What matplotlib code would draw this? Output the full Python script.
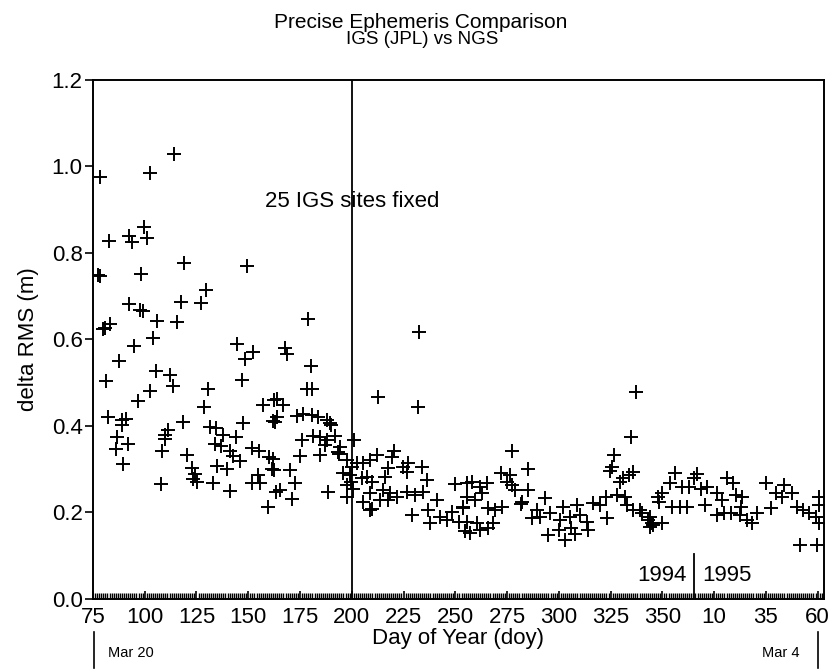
import matplotlib
matplotlib.use("Agg")
import matplotlib.pyplot as plt
from matplotlib.lines import Line2D

plt.rcParams['font.family'] = ['Liberation Sans', 'DejaVu Sans']

# continuous day count (1995 days are 365 + doy)
doy = [
    78.4, 77.5, 82.9, 92.4, 93.8, 99.6, 101, 102.5, 114.1, 78.4, 98.2, 119, 149.3, 129.5,
    92.4, 97.7, 99, 117.5, 127.1, 105.9, 115.5, 83.2, 80, 80.8, 104, 94.8, 144.5, 152.2,
    148.4, 87.5, 105.4, 112.2, 113.6, 81.3, 146.9, 130.5, 102.5, 96.7, 128.6, 157, 162.4,
    82.4, 89, 91, 89, 118.6, 147.6, 162, 111.3, 110, 131.5, 134.6, 137.8, 144, 86.6, 92,
    86.1, 109.9, 108.5, 133.9, 137, 141, 142.5, 120.5, 151.9, 155, 160, 146, 89.5, 134.8,
    139.7, 122.6, 124.2, 123.3, 125.2, 154.6, 155.6, 161.4, 151.7, 133, 107.8, 141, 163.6,
    159.5,
    178.8, 232.3, 167.7, 168.6, 180.2, 178.3, 181, 212.5, 231.8, 163.7, 166.7, 163.7, 162.8,
    173.4, 176.3, 180.7, 183.6, 187.9, 189.4, 190, 201, 175.8, 181.2, 184.5, 191.8, 187.9,
    187, 194.2, 193.2, 194, 175, 184.5, 161.9, 197.6, 162.4, 170.4, 212, 220.3, 219.3,
    202.4, 205.3, 208.7, 200, 217.4, 224.6, 227, 226.5, 233.8, 195.7, 199, 204.8, 207.2,
    210, 216, 236.2, 172.5, 165.2, 171, 188.4, 197.6, 199.5, 197.6, 200.5, 208.7, 215,
    218.3, 222, 213.5, 217.4, 226.5, 230.4, 234.3, 205.3, 208.7, 210, 229, 241, 249.7,
    255.5, 236.7, 248.3, 253.6, 238, 242.5, 245.8, 252,
    337.5, 334.7, 277.2, 326.5, 325.5, 324.5, 284.9, 336, 334, 330.8, 329.4, 272.3, 276.3,
    274.8, 277.2, 257.9, 261.8, 265.2, 262.8, 278.7, 284.9, 282, 281.5, 293.1, 255.5, 259.4,
    253.6, 265.6, 269, 272.4, 289.3, 295.6, 301.8, 308.6, 316.3, 319.7, 323, 327.9, 331.8,
    332.7, 335.6, 340, 342.9, 345.3, 347.7, 255.5, 260.3, 268, 286.9, 290.7, 300.4, 305.2,
    310, 313.4, 323.5,
    355.9, 366.5, 365.5, 381, 353.5, 359.3, 363, 368.9, 371.8, 383.9, 400.3, 409, 350,
    348.6, 354.9, 358.3, 361.7, 370.4, 376.2, 378.6, 385.8, 388.7, 388.2, 380, 376.2,
    383.4, 387.3, 391.1, 395.5, 402.7, 405.1, 408, 412.8, 414.8, 417.7, 421, 424.4, 425.9,
    425.9, 339, 343.8, 344.8, 393.5, 425.9,
    254.5, 257, 262, 266, 294.6, 303, 308, 314, 344, 416.5, 424.5, 300, 306, 350,
]
rms = [
    0.976, 0.749, 0.828, 0.839, 0.826, 0.86, 0.834, 0.985, 1.029, 0.747, 0.751, 0.777, 0.770, 0.714,
    0.682, 0.668, 0.667, 0.687, 0.684, 0.643, 0.640, 0.636, 0.624, 0.626, 0.603, 0.585, 0.590, 0.571,
    0.555, 0.551, 0.527, 0.518, 0.493, 0.504, 0.506, 0.486, 0.481, 0.458, 0.443, 0.449, 0.460,
    0.420, 0.414, 0.416, 0.402, 0.410, 0.406, 0.411, 0.390, 0.379, 0.397, 0.395, 0.379, 0.375, 0.375, 0.358,
    0.347, 0.370, 0.342, 0.358, 0.353, 0.342, 0.331, 0.333, 0.349, 0.342, 0.328, 0.319, 0.312, 0.308,
    0.300, 0.303, 0.289, 0.277, 0.271, 0.287, 0.268, 0.300, 0.268, 0.268, 0.266, 0.250, 0.248,
    0.213,
    0.647, 0.617, 0.580, 0.566, 0.539, 0.486, 0.486, 0.467, 0.443, 0.462, 0.449, 0.421, 0.409,
    0.423, 0.428, 0.425, 0.421, 0.414, 0.407, 0.403, 0.368, 0.368, 0.377, 0.375, 0.377, 0.368,
    0.356, 0.352, 0.340, 0.335, 0.331, 0.333, 0.324, 0.321, 0.298, 0.298, 0.333, 0.342, 0.328,
    0.314, 0.314, 0.321, 0.305, 0.303, 0.305, 0.314, 0.294, 0.305, 0.291, 0.287, 0.280, 0.282,
    0.271, 0.282, 0.275, 0.268, 0.252, 0.231, 0.248, 0.264, 0.270, 0.236, 0.254, 0.245, 0.252,
    0.245, 0.236, 0.229, 0.229, 0.248, 0.240, 0.248, 0.224, 0.206, 0.208, 0.194, 0.229, 0.266,
    0.268, 0.206, 0.201, 0.210, 0.176, 0.190, 0.183, 0.178,
    0.479, 0.375, 0.342, 0.333, 0.305, 0.296, 0.300, 0.294, 0.287, 0.280, 0.271, 0.291, 0.287,
    0.271, 0.264, 0.271, 0.259, 0.268, 0.245, 0.252, 0.252, 0.224, 0.220, 0.233, 0.236, 0.229,
    0.213, 0.210, 0.206, 0.213, 0.206, 0.199, 0.213, 0.217, 0.222, 0.217, 0.236, 0.240, 0.236,
    0.217, 0.206, 0.199, 0.183, 0.171, 0.236, 0.178, 0.176, 0.176, 0.187, 0.190, 0.183, 0.190,
    0.194, 0.178, 0.187,
    0.291, 0.289, 0.280, 0.280, 0.268, 0.259, 0.259, 0.254, 0.259, 0.268, 0.268, 0.264, 0.245,
    0.224, 0.213, 0.213, 0.213, 0.217, 0.245, 0.229, 0.240, 0.236, 0.213, 0.199, 0.194,
    0.199, 0.194, 0.183, 0.199, 0.210, 0.245, 0.236, 0.245, 0.213, 0.206, 0.199, 0.190, 0.236,
    0.217, 0.206, 0.190, 0.176, 0.176, 0.176,
    0.157, 0.153, 0.160, 0.165, 0.148, 0.137, 0.150, 0.160, 0.167, 0.125, 0.125, 0.160, 0.165, 0.175,
]

x_ticks = [75, 100, 125, 150, 175, 200, 225, 250, 275, 300, 325, 350, 375, 400, 425]
x_labels = ["75", "100", "125", "150", "175", "200", "225", "250", "275", "300", "325",
            "350", "10", "35", "60"]
y_ticks = [0.0, 0.2, 0.4, 0.6, 0.8, 1.0, 1.2]
y_labels = ["0.0", "0.2", "0.4", "0.6", "0.8", "1.0", "1.2"]

fixed_day = 200
year_end = 365.5

fig = plt.figure(figsize=(8.33, 6.70), dpi=100)
ax = fig.add_axes([0.1116, 0.106, 0.8774, 0.7746])

ax.plot(doy, rms, linestyle='none', marker='+', markersize=10, markeredgewidth=1.4,
        color='black')

ax.set_xlim(75, 428)
ax.set_ylim(0, 1.2)
ax.set_xticks(x_ticks)
ax.set_xticklabels(x_labels)
ax.set_xticks(range(76, 428), minor=True)
ax.set_yticks(y_ticks)
ax.set_yticklabels(y_labels)
ax.tick_params(axis='x', which='major', direction='in', length=6, width=1.2,
               labelsize=16, pad=6)
ax.tick_params(axis='x', which='minor', direction='in', length=4, width=1)
ax.tick_params(axis='y', which='major', direction='out', length=6, width=1.2,
               labelsize=16, pad=1.5)
for s in ax.spines.values():
    s.set_linewidth(1.4)

ax.axvline(fixed_day, color='black', linewidth=1.3)
ax.plot([year_end, year_end], [0, 0.105], color='black', linewidth=1.3)
ax.text(158, 0.92, "25 IGS sites fixed", fontsize=16, va='center', ha='left')
ax.text(year_end - 4, 0.055, "1994", fontsize=16, va='center', ha='right')
ax.text(year_end + 4, 0.055, "1995", fontsize=16, va='center', ha='left')

ax.set_xlabel("Day of Year (doy)", fontsize=16, labelpad=0)
ax.set_ylabel("delta RMS (m)", fontsize=16, labelpad=9)

fig.text(0.505, 0.967, "Precise Ephemeris Comparison", fontsize=15, ha='center', va='center')
fig.text(0.507, 0.941, "IGS (JPL) vs NGS", fontsize=13.5, ha='center', va='center')

# date markers below the axis
fig.add_artist(Line2D([94 / 833, 94 / 833], [1 - 632 / 670, 1 - 668 / 670],
                      color='black', linewidth=1.2))
fig.add_artist(Line2D([818 / 833, 818 / 833], [1 - 632 / 670, 1 - 668 / 670],
                      color='black', linewidth=1.2))
fig.text(108 / 833, 1 - 653 / 670, "Mar 20", fontsize=10.5, ha='left', va='center')
fig.text(800 / 833, 1 - 653 / 670, "Mar 4", fontsize=10.5, ha='right', va='center')

fig.savefig("out.png", dpi=100)
